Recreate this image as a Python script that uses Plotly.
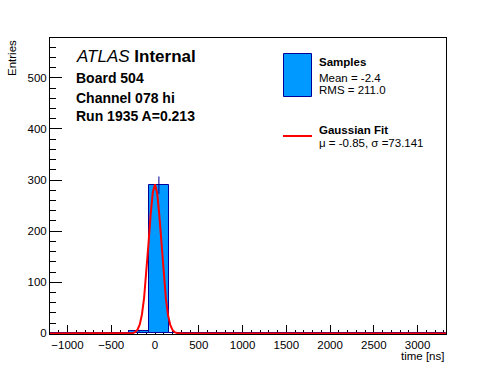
import numpy as np
import plotly.graph_objects as go

# Histogram: 20 bins from -1200 to 3325 ns
bin_low = -1200.0
bin_high = 3325.0
n_bins = 20
counts = [0, 0, 0, 0, 5, 290, 0, 0, 0, 0, 0, 0, 0, 0, 0, 0, 0, 0, 0, 0]

# Gaussian fit curve (mu = -0.85, sigma = 73.141)
fit_x = [-1200, -325, -300, -275, -250, -225, -200, -175, -150, -125, -100, -75, -50, -25,
         0, 25, 50, 75, 100, 125, 150, 175, 200, 225, 250, 275, 300, 325, 3325]
fit_y = [0, 0, 0.1, 0.3, 0.9, 2.7, 7.2, 17.1, 36.5, 69.1, 116.5, 174.6, 233.0, 276.5,
         292.0, 274.3, 229.3, 170.5, 112.8, 66.4, 34.8, 16.2, 6.7, 2.5, 0.8, 0.2, 0.1, 0, 0]

width = (bin_high - bin_low) / n_bins
centers = [bin_low + width * (i + 0.5) for i in range(n_bins)]
errors = [float(np.sqrt(c)) for c in counts]

FONT = "Liberation Sans, Arial, Helvetica, sans-serif"
FILL = "#0099ff"
EDGE = "#000099"

fig = go.Figure()
fig.add_trace(go.Bar(
    x=centers, y=counts, width=width,
    marker=dict(color=FILL, line=dict(color=EDGE, width=1)),
    error_y=dict(type="data", array=errors, visible=True, color=EDGE, thickness=1, width=0),
    showlegend=False,
))
fig.add_trace(go.Scatter(
    x=fit_x, y=fit_y, mode="lines",
    line=dict(color="#ff0000", width=2),
    showlegend=False,
))

fig.update_layout(
    width=496, height=372,
    margin=dict(l=50, r=50, t=38, b=38),
    paper_bgcolor="white", plot_bgcolor="white",
    bargap=0,
    font=dict(family=FONT, size=11.5, color="black"),
    xaxis=dict(
        range=[bin_low, bin_high], dtick=500, tick0=0,
        ticks="inside", ticklen=9, tickwidth=1, tickcolor="black",
        minor=dict(dtick=100, ticks="inside", ticklen=4.5, tickcolor="black", tickwidth=1),
        showline=True, linecolor="black", linewidth=1, mirror=True,
        showgrid=False, zeroline=False, layer="below traces",
        tickfont=dict(size=11.5),
    ),
    yaxis=dict(
        range=[-1.2, 578], tickvals=[0, 100, 200, 300, 400, 500],
        ticks="inside", ticklen=12, tickwidth=1, tickcolor="black",
        minor=dict(tickvals=[v for v in range(20, 580, 20) if v % 100 != 0],
                   ticks="inside", ticklen=6, tickcolor="black", tickwidth=1),
        showline=True, linecolor="black", linewidth=1, mirror=True,
        showgrid=False, zeroline=False,
        tickfont=dict(size=11.5),
    ),
)

def px_x(px):
    return (px - 50) / 396.0

def px_y(py):
    return 1 - (py - 38) / 296.0

ann = []
# axis titles
ann.append(dict(text="Entries", x=px_x(12), y=1.0, xref="paper", yref="paper",
                xanchor="center", yanchor="top", textangle=-90, showarrow=False,
                font=dict(size=11.5)))
ann.append(dict(text="time [ns]", x=1.0, y=px_y(356), xref="paper", yref="paper",
                xanchor="right", yanchor="middle", showarrow=False, font=dict(size=11.5)))
# labels
ann.append(dict(text="<i>ATLAS</i> <b>Internal</b>", x=px_x(74), y=px_y(57),
                xref="paper", yref="paper", xanchor="left", yanchor="middle",
                showarrow=False, font=dict(size=17)))
for txt, yy in [("Board 504", 78), ("Channel 078 hi", 98), ("Run 1935 A=0.213", 116)]:
    ann.append(dict(text="<b>%s</b>" % txt, x=px_x(74), y=px_y(yy),
                    xref="paper", yref="paper", xanchor="left", yanchor="middle",
                    showarrow=False, font=dict(size=14)))
# legend texts
leg = [("<b>Samples</b>", 62), ("Mean = -2.4", 78), ("RMS = 211.0", 90),
       ("<b>Gaussian Fit</b>", 130), ("\u03bc = -0.85, \u03c3 =73.141", 143)]
for txt, yy in leg:
    ann.append(dict(text=txt, x=px_x(317), y=px_y(yy), xref="paper", yref="paper",
                    xanchor="left", yanchor="middle", showarrow=False,
                    font=dict(size=11.5)))
fig.update_layout(annotations=ann)

fig.update_layout(shapes=[
    dict(type="rect", xref="paper", yref="paper",
         x0=px_x(283.5), x1=px_x(311.5), y0=px_y(96.5), y1=px_y(53.5),
         fillcolor=FILL, line=dict(color=EDGE, width=1)),
    dict(type="line", xref="paper", yref="paper",
         x0=px_x(283), x1=px_x(312), y0=px_y(136), y1=px_y(136),
         line=dict(color="#ff0000", width=2)),
])

fig.write_html("out.html", config={"displayModeBar": False},
               post_script="document.body.style.margin='0';")
